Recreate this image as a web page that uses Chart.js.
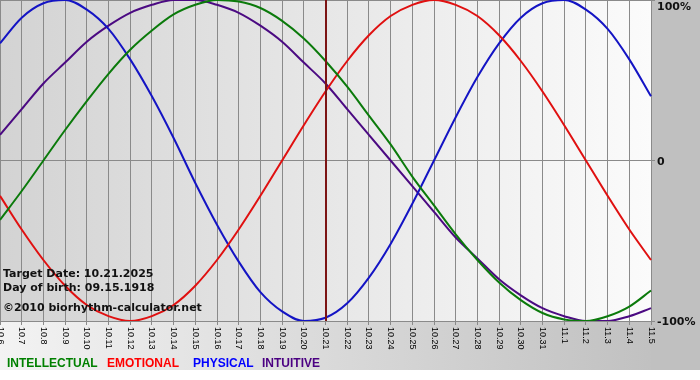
<!DOCTYPE html>
<html>
<head>
<meta charset="utf-8">
<title>Biorhythm</title>
<script src="https://cdn.jsdelivr.net/npm/chart.js@4/dist/chart.umd.min.js"></script>
<style>
    html, body { margin: 0; padding: 0; background: #ffffff; }
    #wrap { position: relative; width: 700px; height: 380px; }
    canvas { display: block; }
    #legend {
        position: absolute; left: 7px; top: 356px;
        font: bold 12px 'Liberation Sans', Arial, sans-serif;
        white-space: nowrap;
    }
    #legend span { position: absolute; top: 0; }
</style>
</head>
<body>
<div id="wrap">
    <canvas id="bio" width="700" height="380"></canvas>
    <div id="legend">
        <span style="left:0px;color:#008000">INTELLECTUAL</span>
        <span style="left:100px;color:#ff0000">EMOTIONAL</span>
        <span style="left:186px;color:#0000ff">PHYSICAL</span>
        <span style="left:255px;color:#4b0082">INTUITIVE</span>
    </div>
</div>
<script>
// Days shown on the x axis (month.day)
const days = ['10.6', '10.7', '10.8', '10.9', '10.10', '10.11', '10.12', '10.13', '10.14', '10.15',
    '10.16', '10.17', '10.18', '10.19', '10.20', '10.21', '10.22', '10.23', '10.24', '10.25',
    '10.26', '10.27', '10.28', '10.29', '10.30', '10.31', '11.1', '11.2', '11.3', '11.4', '11.5'];

// Cycle values (-1 .. 1)
const intellectual = [-0.37, -0.19, 0.00, 0.19, 0.37, 0.54, 0.69, 0.81, 0.91, 0.97,
    1.00, 0.99, 0.95, 0.87, 0.76, 0.62, 0.46, 0.28, 0.10, -0.10,
    -0.28, -0.46, -0.62, -0.76, -0.87, -0.95, -0.99, -1.00, -0.97, -0.91, -0.81];
const emotional = [-0.22, -0.43, -0.62, -0.78, -0.90, -0.97, -1.00, -0.97, -0.90, -0.78,
    -0.62, -0.43, -0.22, 0.00, 0.22, 0.43, 0.62, 0.78, 0.90, 0.97,
    1.00, 0.97, 0.90, 0.78, 0.62, 0.43, 0.22, 0.00, -0.22, -0.43, -0.62];
const physical = [0.73, 0.89, 0.98, 1.00, 0.94, 0.82, 0.63, 0.40, 0.14, -0.14,
    -0.40, -0.63, -0.82, -0.94, -1.00, -0.98, -0.89, -0.73, -0.52, -0.27,
    0.00, 0.27, 0.52, 0.73, 0.89, 0.98, 1.00, 0.94, 0.82, 0.63, 0.40];
const intuitive = [0.16, 0.32, 0.48, 0.61, 0.74, 0.84, 0.92, 0.97, 1.00, 1.00,
    0.97, 0.92, 0.84, 0.74, 0.61, 0.48, 0.32, 0.16, 0.00, -0.16,
    -0.32, -0.48, -0.61, -0.74, -0.84, -0.92, -0.97, -1.00, -1.00, -0.97, -0.92];

// Y tick labels and the marked day
const yTicks = [{ v: 1, text: '100%' }, { v: 0, text: '0' }, { v: -1, text: '-100%' }];
const targetDay = '10.21';
const infoLines = ['Target Date: 10.21.2025', 'Day of birth: 09.15.1918', '\u00a92010 biorhythm-calculator.net'];

const GRID = '#8a8a8a';

// Backgrounds: grey frame and gradient plot area
const backgroundPlugin = {
    id: 'bioBackground',
    beforeDraw(chart) {
        const ctx = chart.ctx;
        const a = chart.chartArea;
        ctx.save();
        ctx.fillStyle = '#ffffff';
        ctx.fillRect(0, 0, chart.width, chart.height);
        const outer = ctx.createLinearGradient(0, 0, chart.width, 0);
        outer.addColorStop(0, '#f3f3f3');
        outer.addColorStop(1, '#bdbdbd');
        ctx.fillStyle = outer;
        ctx.fillRect(0, 0, chart.width, 370);
        ctx.fillStyle = '#c0c0c0';
        ctx.fillRect(a.right, 0, chart.width - a.right, 370);
        const inner = ctx.createLinearGradient(a.left, 0, a.right, 0);
        inner.addColorStop(0, '#d3d3d3');
        inner.addColorStop(1, '#fbfbfb');
        ctx.fillStyle = inner;
        ctx.fillRect(a.left, a.top, a.right - a.left, a.bottom - a.top);
        ctx.restore();
    }
};

// Target line, info text and axis labels
const overlayPlugin = {
    id: 'bioOverlay',
    afterDatasetsDraw(chart) {
        const ctx = chart.ctx;
        const x = chart.scales.x;
        const y = chart.scales.y;
        const a = chart.chartArea;
        ctx.save();

        // target date marker
        const tx = Math.round(x.getPixelForValue(days.indexOf(targetDay)));
        ctx.strokeStyle = '#7c1414';
        ctx.lineWidth = 2;
        ctx.beginPath();
        ctx.moveTo(tx, a.top);
        ctx.lineTo(tx, a.bottom);
        ctx.stroke();

        // info text in lower left corner
        ctx.fillStyle = '#111111';
        ctx.font = "bold 11px 'DejaVu Sans', Verdana, sans-serif";
        ctx.textAlign = 'left';
        ctx.textBaseline = 'alphabetic';
        ctx.fillText(infoLines[0], 3, a.bottom - 44);
        ctx.fillText(infoLines[1], 3, a.bottom - 30);
        ctx.fillText(infoLines[2], 3, a.bottom - 10);

        // x labels, rotated to read top-down
        ctx.font = "9px 'Liberation Sans', Arial, sans-serif";
        ctx.fillStyle = '#000000';
        ctx.textBaseline = 'middle';
        days.forEach((d, i) => {
            ctx.save();
            ctx.translate(x.getPixelForValue(i), a.bottom + 6);
            ctx.rotate(Math.PI / 2);
            ctx.fillText(d, 0, 0);
            ctx.restore();
        });

        // y labels on the right
        ctx.font = "bold 11px 'DejaVu Sans', Verdana, sans-serif";
        ctx.fillStyle = '#111111';
        const shift = { '1': 7, '0': 2, '-1': 1 };
        yTicks.forEach(t => {
            ctx.fillText(t.text, a.right + 6, y.getPixelForValue(t.v) + shift[String(t.v)]);
        });

        ctx.restore();
    }
};

function series(label, data, color) {
    return {
        label: label,
        data: data,
        borderColor: color,
        borderWidth: 2,
        pointRadius: 0,
        fill: false,
        cubicInterpolationMode: 'monotone'
    };
}

const bioChart = new Chart(document.getElementById('bio').getContext('2d'), {
    type: 'line',
    data: {
        labels: days,
        datasets: [
            series('INTELLECTUAL', intellectual, '#0b7a0b'),
            series('EMOTIONAL', emotional, '#e01010'),
            series('PHYSICAL', physical, '#1414c4'),
            series('INTUITIVE', intuitive, '#4b0a82')
        ]
    },
    options: {
        responsive: false,
        animation: false,
        layout: { padding: 0 },
        plugins: {
            legend: { display: false },
            tooltip: { enabled: false }
        },
        scales: {
            x: {
                offset: false,
                ticks: { display: false },
                grid: { color: GRID, lineWidth: 1, drawTicks: true, tickLength: 4 },
                border: { display: false },
                afterFit: (scale) => { scale.height = 59; }
            },
            y: {
                position: 'right',
                min: -1,
                max: 1,
                ticks: { display: false, stepSize: 1 },
                grid: { color: GRID, lineWidth: 1, drawTicks: true, tickLength: 4 },
                border: { display: false },
                afterFit: (scale) => { scale.width = 49; }
            }
        }
    },
    plugins: [backgroundPlugin, overlayPlugin]
});
</script>
</body>
</html>
